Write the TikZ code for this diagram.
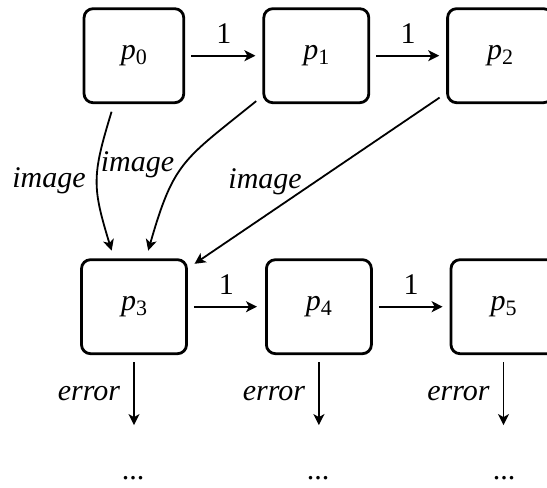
\documentclass[tikz,border=0pt]{standalone}
\usepackage{fontspec}
\setmainfont{Liberation Serif}
\usetikzlibrary{arrows.meta}
% state name: italic p with an upright, lowered index
\newcommand{\pname}[1]{\textit{p}\raisebox{-0.17em}{\fontsize{22}{22}\selectfont #1}}
\begin{document}
\begin{tikzpicture}[x=1pt,y=1pt,
  state/.style={draw, line width=2.8pt, rounded corners=9pt,
    minimum width=105pt, minimum height=94pt, inner sep=0pt,
    font=\fontsize{30}{36}\selectfont},
  arr/.style={line width=1.8pt, -{Stealth[length=11pt,width=11pt,inset=3pt]}},
  lbl/.style={font=\fontsize{30}{36}\selectfont\itshape, inner sep=0pt},
  num/.style={font=\fontsize{30}{36}\selectfont, inner sep=0pt},
]
\useasboundingbox (0,0) rectangle (547,488);

% upper row
\node[state, minimum width=99.7pt] (p0) at (133.9,432.3) {\pname{0}};
\node[state] (p1) at (316.3,432.3) {\pname{1}};
\node[state] (p2) at (500.1,432.3) {\pname{2}};
% lower row
\node[state] (p3) at (134,181.3) {\pname{3}};
\node[state] (p4) at (318.9,181.3) {\pname{4}};
\node[state] (p5) at (503.5,181.3) {\pname{5}};

% successor steps
\draw[arr, shorten <=6pt, shorten >=7pt] (p0) -- node[midway, above=11.5pt, num] {1} (p1);
\draw[arr, shorten <=6pt, shorten >=7pt] (p1) -- node[midway, above=11.5pt, num] {1} (p2);
\draw[arr, shorten <=6pt, shorten >=8pt] (p3) -- node[midway, above=11.5pt, num] {1} (p4);
\draw[arr, shorten <=6pt, shorten >=7pt] (p4) -- node[midway, above=11.5pt, num] {1} (p5);

% image maps into p3
\draw[arr, shorten <=8pt, shorten >=8pt]
  ([xshift=-20pt]p0.south) to[out=253, in=107, looseness=1.25]
  node[midway, left=11pt, lbl] {image} ([xshift=-20pt]p3.north);
\draw[arr, shorten <=8pt, shorten >=8pt]
  ([yshift=8pt]p1.south west) to[out=219, in=74, looseness=1.3]
  node[pos=0.5, left=10pt, lbl] {image} ([xshift=12pt]p3.north);
\draw[arr, shorten <=8pt, shorten >=8pt]
  ([yshift=11pt]p2.south west) --
  node[pos=0.507, left=12.6pt, lbl] {image} ([yshift=-10pt]p3.north east);

% error exits
\coordinate (e3) at ([yshift=-70pt]p3.south);
\coordinate (e4) at ([yshift=-70pt]p4.south);
\coordinate (e5) at ([yshift=-70pt]p5.south);
\draw[arr, shorten <=7pt] (p3.south) -- node[pos=0.55, left=13pt, lbl] {error} (e3);
\draw[arr, shorten <=7pt] (p4.south) -- node[pos=0.55, left=13pt, lbl] {error} (e4);
\draw[arr, shorten <=7pt] (p5.south) -- node[pos=0.55, left=13pt, lbl] {error} (e5);

\node[num] (d3) at (133,10) {...};
\node[num] (d4) at (318,10) {...};
\node[num] (d5) at (504,10) {...};
\end{tikzpicture}
\end{document}
